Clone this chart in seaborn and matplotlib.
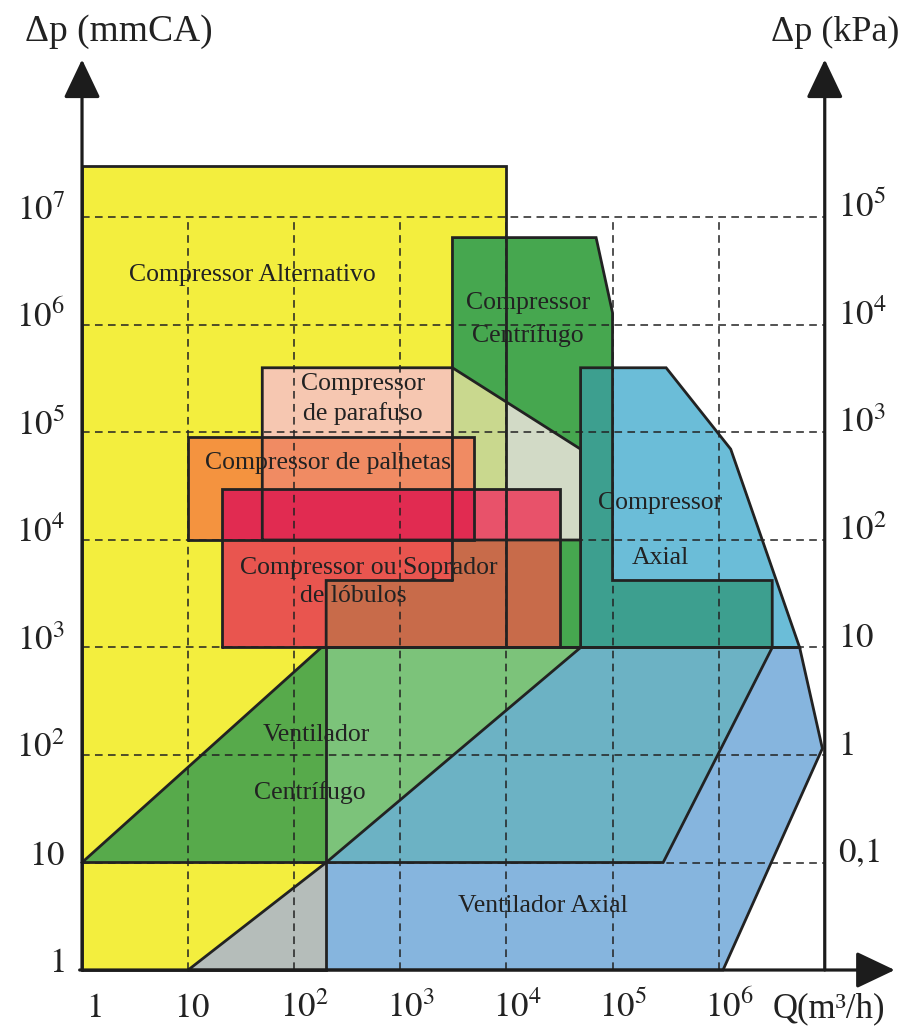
import numpy as np
import matplotlib
matplotlib.use('Agg')
import matplotlib.pyplot as plt
from matplotlib.patches import Polygon
import seaborn as sns

# ranges of application, vertices as (Q m3/h, dp mmCA)
comp_alternativo = [(1, 1), (200, 1), (200, 1000), (1e4, 1000), (1e4, 3e7), (1, 3e7)]
comp_centrifugo = [(3100, 4200), (3100, 6.5e6), (7e4, 6.5e6), (1e5, 1.3e6), (1e5, 4200),
                   (3.2e6, 4200), (3.2e6, 1000), (200, 1000), (200, 4200)]
comp_parafuso = [(50, 1e4), (50, 4e5), (3100, 4e5), (5e4, 7e4), (5e4, 1e4)]
comp_palhetas = [(10, 1e4), (10, 9e4), (5000, 9e4), (5000, 1e4)]
comp_lobulos = [(21, 1000), (21, 3e4), (3.2e4, 3e4), (3.2e4, 1000)]
comp_axial = [(5e4, 1000), (5e4, 4e5), (3.2e5, 4e5), (1.3e6, 7e4), (5.8e6, 1000)]
vent_centrifugo = [(1, 10), (180, 1000), (3.2e6, 1000), (3e5, 10)]
vent_axial = [(10, 1), (1.1e6, 1), (9.5e6, 115), (5.8e6, 1000), (5e4, 1000), (200, 10)]

q_ticks = [1, 10, 1e2, 1e3, 1e4, 1e5, 1e6]
q_labels = ['$1$', '$10$', '$10^2$', '$10^3$', '$10^4$', '$10^5$', '$10^6$']
dp_ticks = [1, 10, 1e2, 1e3, 1e4, 1e5, 1e6, 1e7]
dp_labels = ['$1$', '$10$', '$10^2$', '$10^3$', '$10^4$', '$10^5$', '$10^6$', '$10^7$']
kpa_labels = ['$0{,}1$', '$1$', '$10$', '$10^2$', '$10^3$', '$10^4$', '$10^5$']
kpa_ticks = [10, 1e2, 1e3, 1e4, 1e5, 1e6, 1e7]

sns.set_theme(style='white')
plt.rcParams['font.family'] = ['Liberation Serif', 'DejaVu Serif']
plt.rcParams['mathtext.fontset'] = 'stix'

INK = '#222222'

fig = plt.figure(figsize=(9.04, 10.30), dpi=100)
fig.patch.set_facecolor('white')
ax = fig.add_axes([0, 0, 1, 1])
ax.set_xscale('log')
ax.set_yscale('log')
ax.set_xlim(10 ** -0.773, 10 ** 7.747)
ax.set_ylim(10 ** -0.558, 10 ** 9.023)
ax.axis('off')


def clip_q(poly, qmax):
    # part of a polygon left of Q = qmax, done in log space
    pts = [(np.log10(q), np.log10(p)) for q, p in poly]
    x0 = np.log10(qmax)
    out = []
    for a, b in zip(pts, pts[1:] + pts[:1]):
        if a[0] <= x0:
            out.append(a)
        if (a[0] - x0) * (b[0] - x0) < 0:
            t = (x0 - a[0]) / (b[0] - a[0])
            out.append((x0, a[1] + t * (b[1] - a[1])))
    return [(10 ** x, 10 ** y) for x, y in out]


def fill(poly, color, clip=None):
    patch = Polygon(poly, closed=True, facecolor=color, edgecolor='none', lw=0)
    ax.add_patch(patch)
    if clip is not None:
        cp = Polygon(clip, closed=True, transform=ax.transData)
        patch.set_clip_path(cp)


def outline(poly, lw=2.0, closed=True):
    pts = poly + poly[:1] if closed else poly
    q, p = zip(*pts)
    ax.plot(q, p, color=INK, lw=lw, solid_joinstyle='miter', zorder=5)


# fills, painted bottom to top; overlaps get their own blended colour
fill(comp_alternativo, '#f3ee3e')
fill(vent_axial, '#86b5de')
fill(vent_axial, '#b5bdba', clip=comp_alternativo)
fill(vent_centrifugo, '#7cc37a')
fill(vent_centrifugo, '#57aa4b', clip=comp_alternativo)
fill(vent_centrifugo, '#6cb2c4', clip=vent_axial)
fill(comp_centrifugo, '#46a74f')
fill(comp_axial, '#6bbdd8')
fill(comp_axial, '#3d9f8f', clip=comp_centrifugo)
fill(comp_parafuso, '#f6c7b1')
fill(comp_parafuso, '#d2dac6', clip=comp_centrifugo)
fill(clip_q(comp_parafuso, 1e4), '#c9d88e', clip=comp_centrifugo)
fill(comp_palhetas, '#f4933f')
fill(comp_palhetas, '#f08b63', clip=comp_parafuso)
fill(comp_lobulos, '#e9554f')
fill(comp_lobulos, '#c86b4a', clip=comp_centrifugo)
fill(comp_lobulos, '#e8526a', clip=comp_parafuso)
fill(comp_lobulos, '#e12b51', clip=comp_palhetas)

for poly in [comp_alternativo, comp_centrifugo, comp_parafuso, comp_palhetas,
             comp_lobulos, comp_axial, vent_centrifugo, vent_axial]:
    outline(poly)

# dashed decade grid
ax.hlines(dp_ticks[1:], 1, 1e7, colors=INK, lw=1.1, linestyles=(0, (5, 3.5)), zorder=4)
ax.vlines(q_ticks[1:], 1, 1e7, colors=INK, lw=1.1, linestyles=(0, (5, 3.5)), zorder=4)

# axes with arrow heads
arrow = dict(arrowstyle='-|>,head_length=0.8,head_width=0.38', color='#1c1c1c', lw=2.3,
             mutation_scale=30, shrinkA=0, shrinkB=0)
ax.annotate('', xy=(1, 10 ** 8.47), xytext=(1, 1), arrowprops=arrow, zorder=6)
ax.annotate('', xy=(1e7, 10 ** 8.47), xytext=(1e7, 1), arrowprops=arrow, zorder=6)
ax.annotate('', xy=(10 ** 7.66, 1), xytext=(0.95, 1), arrowprops=arrow, zorder=6)

# tick labels
tick_fs = 25
for v, lab in zip(dp_ticks, dp_labels):
    ax.text(10 ** -0.16, v * 10 ** -0.02, lab, ha='right', va='baseline', fontsize=tick_fs, color=INK)
for v, lab in zip(kpa_ticks, kpa_labels):
    ax.text(10 ** 7.125, v, lab, ha='left', va='baseline', fontsize=tick_fs, color=INK)
for v, lab in zip(q_ticks, q_labels):
    x = v * 10 ** 0.04 if v == 1 else v * 10 ** -0.13
    ax.text(x, 10 ** -0.437, lab, ha='left', va='baseline', fontsize=tick_fs, color=INK)
ax.text(10 ** 6.51, 10 ** -0.437, 'Q(m³/h)', ha='left', va='baseline', fontsize=tick_fs, color=INK)

fig.text(25 / 904, 1 - 41 / 1030, 'Δp (mmCA)', ha='left', va='baseline', fontsize=27, color=INK)
fig.text(835 / 904, 1 - 41 / 1030, 'Δp (kPa)', ha='center', va='baseline', fontsize=26, color=INK)

# region names
lab_fs = 18.5
labels = [
    ('Compressor Alternativo', 40, 2.9e6),
    ('Compressor', 1.6e4, 1.6e6),
    ('Centrífugo', 1.6e4, 8.0e5),
    ('Compressor', 445, 2.8e5),
    ('de parafuso', 445, 1.5e5),
    ('Compressor de palhetas', 210, 5.2e4),
    ('Compressor ou Soprador', 500, 5.5e3),
    ('de lóbulos', 357, 3.0e3),
    ('Compressor', 2.8e5, 2.2e4),
    ('Axial', 2.8e5, 6.8e3),
    ('Ventilador', 163, 154),
    ('Centrífugo', 141, 44.5),
    ('Ventilador Axial', 2.2e4, 3.9),
]
for txt, q, p in labels:
    ax.text(q, p, txt, ha='center', va='center', fontsize=lab_fs, color=INK, zorder=7)

fig.savefig('out.png', dpi=100, facecolor='white')
